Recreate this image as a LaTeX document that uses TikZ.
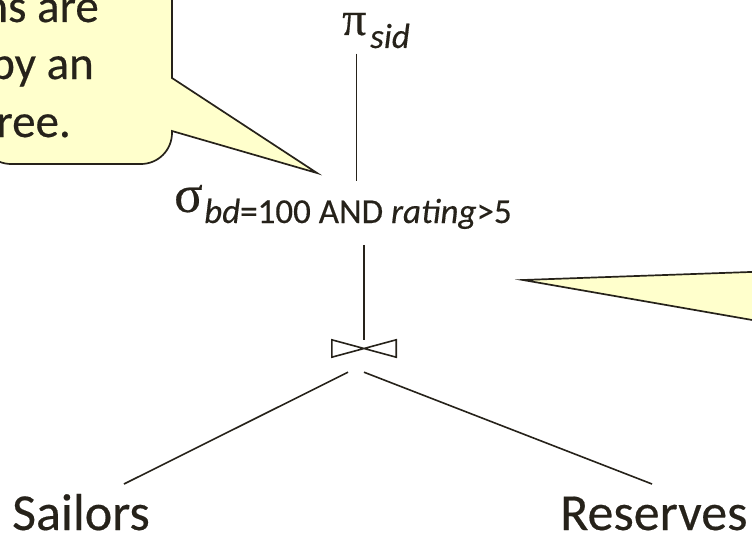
\documentclass[tikz,border=0pt]{standalone}
\usepackage{fontspec}
\setmainfont{Carlito}[FakeBold=0.35]
\newfontfamily\grk{Liberation Serif}[FakeBold=0.3]
\usetikzlibrary{calc}
\definecolor{ink}{RGB}{38,34,26}
\definecolor{notefill}{RGB}{255,255,204}
\begin{document}
\begin{tikzpicture}[x=1pt, y=-1pt,
  conn/.style={draw=ink, line width=1.6pt},
  note/.style={draw=ink, fill=notefill, line width=1.7pt, line join=miter},
  lbl/.style={inner sep=0pt, text=ink},
  notetext/.style={lbl, anchor=base east, font=\fontsize{47}{57}\selectfont},
  opsym/.style={lbl, anchor=base west},
  opsub/.style={lbl, anchor=base west, font=\fontsize{35}{35}\selectfont\itshape},
  relname/.style={lbl, anchor=base west, font=\fontsize{52}{52}\selectfont},
]
\useasboundingbox (0,0) rectangle (752,535);
\clip (0,0) rectangle (752,535);

% callout on the left, pointing at the selection
\path[note] (-20,-20) -- (172,-20) -- (172,78) -- (317,173) -- (172,131) -- (172,132)
  [rounded corners=31pt] -- (172,164) -- (-20,164) [sharp corners] -- cycle;
\node[notetext] (n1) at (99,22) {ns are};
\node[notetext] (n2) at (94,79) {by an};
\node[notetext] (n3) at (71,137) {ree.};

% callout on the right, only its pointer is in view
\path[note] (523,280) -- (790,270.6) -- (790,326.6) -- cycle;

% projection
\node[opsym, font=\grk\fontsize{48}{48}\selectfont] (pisym) at (342,35) {π};
\node[opsub] (pisub) at (370,48) {sid};

% selection
\node[opsym, font=\grk\fontsize{53}{53}\selectfont] (sel) at (174,212) {σ};
\node[opsub] (selsub) at (204,223) {bd\upshape=100 AND \itshape rating\upshape>5};

% join symbol
\node[inner sep=0pt, minimum width=64pt, minimum height=17pt] (join) at (364,348.5) {};
\draw[conn, line join=miter] (join.north west) -- (join.south east) -- (join.north east)
  -- (join.south west) -- cycle;

% relations
\node[relname] (sailors) at (12,530) {Sailors};
\node[relname] (reserves) at (560,530) {Reserves};

% tree edges
\coordinate (sailorsTop) at (124,484);
\coordinate (reservesTop) at (652,484);
\draw[conn] (pisym.south) ++(2,18) -- +(0,127);
\draw[conn] (join.north) ++(0,-95) -- (join.north);
\draw[conn] ($(join.south)+(-16,15)$) -- (sailorsTop);
\draw[conn] ($(join.south)+(0,15)$) -- (reservesTop);
\end{tikzpicture}
\end{document}
